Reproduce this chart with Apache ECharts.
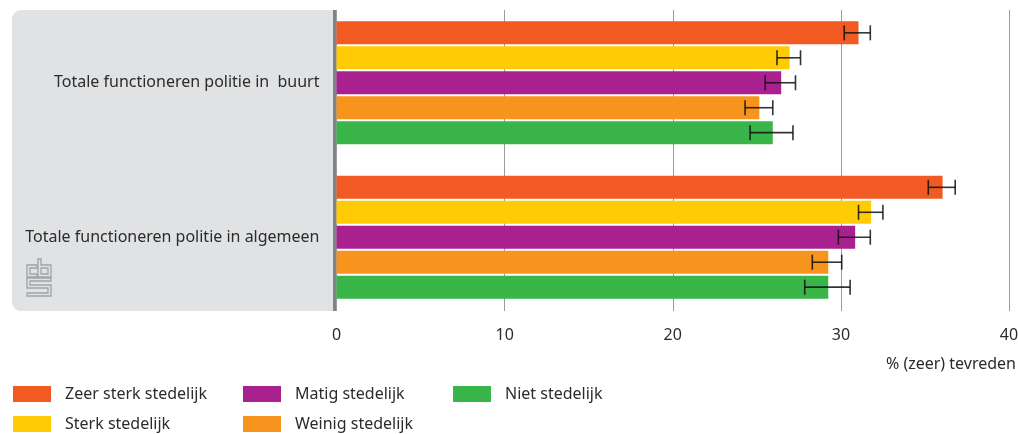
<!DOCTYPE html>
<html><head><meta charset="utf-8">
<style>html,body{margin:0;padding:0;background:#fff}#c{width:1018px;height:434px}</style>
<script src="https://cdn.jsdelivr.net/npm/echarts@6/dist/echarts.min.js"></script>
</head><body><div id="c"></div>
<script>
const categories = ['Totale functioneren politie in  buurt', 'Totale functioneren politie in algemeen'];
const seriesNames = ['Zeer sterk stedelijk', 'Sterk stedelijk', 'Matig stedelijk', 'Weinig stedelijk', 'Niet stedelijk'];
const colors = ['#f15a22', '#ffcb05', '#a9218e', '#f7941d', '#39b54a'];
const zeerSterk = [31.05, 36.05];
const sterk = [26.95, 31.8];
const matig = [26.45, 30.85];
const weinig = [25.15, 29.25];
const niet = [25.95, 29.25];
const lowZeerSterk = [30.2, 35.2], highZeerSterk = [31.75, 36.8];
const lowSterk = [26.2, 31.05], highSterk = [27.6, 32.5];
const lowMatig = [25.5, 29.85], highMatig = [27.3, 31.75];
const lowWeinig = [24.3, 28.3], highWeinig = [25.95, 30.05];
const lowNiet = [24.6, 27.85], highNiet = [27.15, 30.55];

const values = [zeerSterk, sterk, matig, weinig, niet];
const lows = [lowZeerSterk, lowSterk, lowMatig, lowWeinig, lowNiet];
const highs = [highZeerSterk, highSterk, highMatig, highWeinig, highNiet];

const FONT = '"Noto Sans", sans-serif';
const TXT = '#2b2b2b';
const errData = [];
lows.forEach((arr, s) => arr.forEach((lo, c) => errData.push([lo, highs[s][c], c, s])));

const logoStyle = {fill: 'none', stroke: '#a0a2a5', lineWidth: 1.3};
const logoOutlines = [
  [[37, 265], [27, 265], [27, 277], [37, 277], [37, 274], [30, 274], [30, 268], [37, 268]],
  [[38, 259], [41, 259], [41, 265], [51, 265], [51, 277], [38, 277]],
  [[41, 268], [48, 268], [48, 274], [41, 274]],
  [[27, 278], [51, 278], [51, 281], [30, 281], [30, 285], [51, 285], [51, 296], [27, 296], [27, 293], [48, 293], [48, 288], [27, 288]]
];

const chart = echarts.init(document.getElementById('c'));
chart.setOption({
  animation: false,
  textStyle: {fontFamily: FONT},
  graphic: [
    {type: 'rect', z: -10, silent: true, shape: {x: 12, y: 10, width: 322, height: 301, r: [9, 0, 0, 9]}, style: {fill: '#e1e2e4'}},
    {type: 'rect', z: -9, silent: true, shape: {x: 333, y: 10, width: 4, height: 301}, style: {fill: '#808487'}},
    ...logoOutlines.map(points => ({type: 'polygon', z: -8, silent: true, shape: {points}, style: logoStyle}))
  ],
  grid: [
    {left: 336.5, right: 9, top: 10, height: 301, outerBoundsMode: 'none'},
    {left: 336.5, right: 9, top: 5.5, height: 309, outerBoundsMode: 'none'}
  ],
  xAxis: [
    {type: 'value', gridIndex: 0, min: 0, max: 40, interval: 10,
     axisLine: {show: false}, axisTick: {show: false},
     axisLabel: {fontSize: 16, color: TXT, fontFamily: FONT, margin: 16, formatter: v => String(v)},
     splitLine: {show: true, lineStyle: {color: '#9a9c9e', width: 1}},
     name: '% (zeer) tevreden', nameLocation: 'end', nameGap: 7,
     nameTextStyle: {fontSize: 16, color: TXT, fontFamily: FONT, align: 'right', verticalAlign: 'top', padding: [45, 0, 0, 0]}},
    {type: 'value', gridIndex: 1, min: 0, max: 40, show: false}
  ],
  yAxis: [
    {type: 'category', gridIndex: 0, show: false, data: categories, inverse: true},
    {type: 'category', gridIndex: 1, data: categories, inverse: true,
     axisLine: {show: false}, axisTick: {show: false},
     axisLabel: {fontSize: 16, color: TXT, fontFamily: FONT, margin: 17, align: 'right'}}
  ],
  legend: [[0, 1, 13], [2, 3, 243], [4, 4, 453]].map(([a, b, x]) => ({
    orient: 'vertical', left: x, top: 384.5, padding: 0, itemWidth: 38, itemHeight: 16, itemGap: 11,
    selectedMode: false, icon: 'rect',
    data: seriesNames.slice(a, b + 1),
    textStyle: {fontSize: 16, lineHeight: 16, color: TXT, fontFamily: FONT, padding: [3, 0, 0, 9]}
  })),
  series: [
    ...seriesNames.map((name, i) => ({
      type: 'bar', name, xAxisIndex: 1, yAxisIndex: 1, data: values[i],
      barWidth: 23, barGap: '8.5%', itemStyle: {color: colors[i]}, z: 3
    })),
    {
      type: 'custom', xAxisIndex: 1, yAxisIndex: 1, z: 5, silent: true,
      encode: {x: [0, 1], y: 2},
      data: errData,
      renderItem(params, api) {
        const lo = api.coord([api.value(0), api.value(2)]);
        const hi = api.coord([api.value(1), api.value(2)]);
        const band = api.size([0, 1])[1];
        const y = lo[1] + (api.value(3) - 2) * band * 24.96 / 154.5;
        const cap = 7.5;
        const line = (x1, y1, x2, y2) => ({type: 'line', shape: {x1, y1, x2, y2},
          style: {stroke: '#111', lineWidth: 1.6, opacity: 0.85}});
        return {type: 'group', children: [
          line(lo[0], y, hi[0], y),
          line(lo[0], y - cap, lo[0], y + cap),
          line(hi[0], y - cap, hi[0], y + cap)
        ]};
      }
    }
  ]
});
</script></body></html>
